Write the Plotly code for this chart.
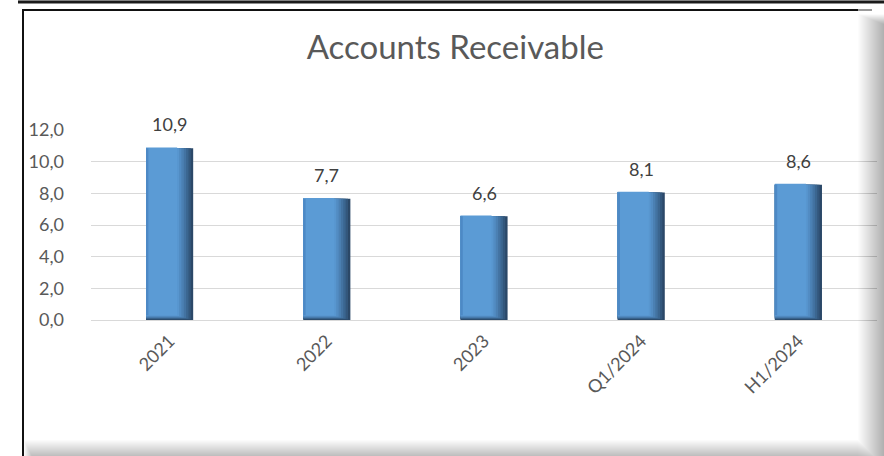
import plotly.graph_objects as go

# Accounts receivable by period
periods = ["2021", "2022", "2023", "Q1/2024", "H1/2024"]
receivables = [10.9, 7.7, 6.6, 8.1, 8.6]
y_ticks = [0, 2, 4, 6, 8, 10, 12]

W, H = 884, 456
M_L, M_R, M_T, M_B = 91, 7, 130, 136
PW, PH = W - M_L - M_R, H - M_T - M_B


def px_x(p):
    return (p - M_L) / PW


def px_y(p):
    return (H - M_B - p) / PH


idx = list(range(len(periods)))
BAR_W = 0.30
LEFT = -BAR_W / 2

# Shaded bar: stacked overlays, each narrower and lifted a little,
# going from a dark right/bottom edge to the light face colour.
shade_layers = [
    (1.00, 0.00, "#2B4868"),
    (0.95, 0.04, "#33577C"),
    (0.90, 0.08, "#3B6690"),
    (0.85, 0.12, "#4373A2"),
    (0.80, 0.16, "#4B80B3"),
    (0.75, 0.20, "#528CC3"),
    (0.70, 0.25, "#5896CF"),
    (0.66, 0.30, "#5B9BD5"),
]

fig = go.Figure()
n_layers = len(shade_layers)
for k, (frac, lift, col) in enumerate(shade_layers):
    # the under-layers stop a hair below the top so the face colour owns the top edge
    trim = 0.0 if k == n_layers - 1 else 0.05
    fig.add_trace(go.Bar(
        x=idx,
        y=[v - lift - trim for v in receivables],
        base=[lift] * len(receivables),
        width=BAR_W * frac,
        offset=LEFT,
        marker=dict(color=col, line=dict(width=0)),
        hoverinfo="skip",
        showlegend=False,
    ))
# slightly darker left rim
fig.add_trace(go.Bar(
    x=idx,
    y=[v - 0.35 for v in receivables],
    base=[0.3] * len(receivables),
    width=BAR_W * 0.05,
    offset=LEFT,
    marker=dict(color="#4D89C5", line=dict(width=0)),
    hoverinfo="skip",
    showlegend=False,
))

for i, v in zip(idx, receivables):
    fig.add_annotation(
        x=i, y=v, text=f"{v:.1f}".replace(".", ","),
        showarrow=False, yanchor="bottom", yshift=10,
        font=dict(family="Lato", size=18, color="#404040"),
    )

shapes = []
# thick rule along the very top
shapes.append(dict(type="rect", xref="paper", yref="paper",
                   x0=px_x(18), x1=px_x(W + 2), y0=px_y(3.5), y1=px_y(0.5),
                   line=dict(width=0), fillcolor="#1a1a1a", layer="above"))
shapes.append(dict(type="rect", xref="paper", yref="paper",
                   x0=px_x(18), x1=px_x(W + 2), y0=px_y(0.5), y1=px_y(-1),
                   line=dict(width=0), fillcolor="#777777", layer="above"))
# soft shadow down the right side and along the bottom of the chart box
for k in range(26):
    shapes.append(dict(type="rect", xref="paper", yref="paper",
                       x0=px_x(858 + k), x1=px_x(W + 2),
                       y0=px_y(H + 2), y1=px_y(14 + k * 0.4),
                       line=dict(width=0), fillcolor="#000000",
                       opacity=0.011, layer="above"))
for k in range(16):
    shapes.append(dict(type="rect", xref="paper", yref="paper",
                       x0=px_x(24 + k * 0.5), x1=px_x(858 + k),
                       y0=px_y(H + 2), y1=px_y(440 + k),
                       line=dict(width=0), fillcolor="#000000",
                       opacity=0.016, layer="above"))
# black outline of the chart box (left and top)
shapes.append(dict(type="line", xref="paper", yref="paper",
                   x0=px_x(23), x1=px_x(23), y0=px_y(H + 2), y1=px_y(10),
                   line=dict(color="#111111", width=2), layer="above"))
shapes.append(dict(type="line", xref="paper", yref="paper",
                   x0=px_x(22), x1=px_x(858), y0=px_y(10), y1=px_y(10),
                   line=dict(color="#111111", width=2), layer="above"))
shapes.append(dict(type="line", xref="paper", yref="paper",
                   x0=px_x(858), x1=px_x(872), y0=px_y(10), y1=px_y(10),
                   line=dict(color="#999999", width=2), layer="above"))

fig.update_layout(
    width=W, height=H,
    margin=dict(l=M_L, r=M_R, t=M_T, b=M_B),
    paper_bgcolor="white", plot_bgcolor="white",
    barmode="overlay",
    separators=", ",
    title=dict(text="Accounts Receivable", xref="container", yref="container",
               x=0.515, y=1 - 47 / H, xanchor="center", yanchor="middle",
               font=dict(family="Lato", size=33, color="#595959")),
    xaxis=dict(
        range=[-0.5, len(periods) - 0.5],
        tickvals=idx, ticktext=periods, tickangle=-45,
        showgrid=False, showline=False, zeroline=False,
        tickfont=dict(family="Lato", size=18, color="#595959"),
        ticks="", ticklabelstandoff=6,
    ),
    yaxis=dict(
        range=[0, 12], tickvals=y_ticks, tickformat=".1f",
        showgrid=True, gridcolor="#D9D9D9", gridwidth=1,
        zeroline=True, zerolinecolor="#D9D9D9", zerolinewidth=1,
        showline=False, ticks="",
        tickfont=dict(family="Lato", size=18, color="#595959"),
        ticklabelstandoff=26,
    ),
    shapes=shapes,
)

fig.write_html("out.html")
